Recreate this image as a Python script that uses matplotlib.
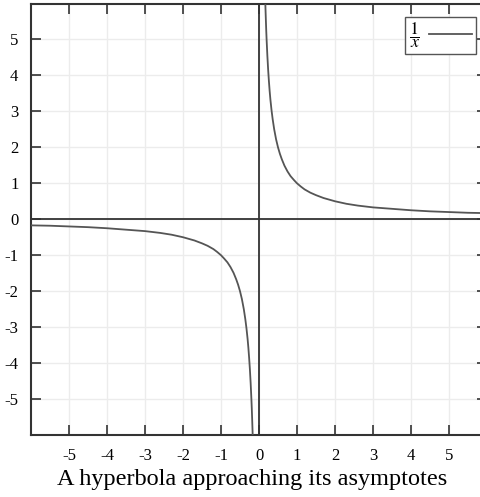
import matplotlib
matplotlib.use("Agg")
import matplotlib.pyplot as plt

plt.rcParams['font.family'] = 'Liberation Serif'
plt.rcParams['mathtext.fontset'] = 'stix'
plt.rcParams['axes.unicode_minus'] = False

# points of the curve y = 1/x
x_pos = [0.16, 0.17, 0.18, 0.19, 0.2, 0.22, 0.24, 0.26, 0.28, 0.3, 0.33, 0.36, 0.4,
         0.45, 0.5, 0.55, 0.6, 0.67, 0.75, 0.83, 0.92, 1.0, 1.1, 1.2, 1.35, 1.5,
         1.7, 2.0, 2.3, 2.6, 3.0, 3.5, 4.0, 4.5, 5.0, 5.5, 6.0]
y_pos = [6.25, 5.88, 5.56, 5.26, 5.0, 4.55, 4.17, 3.85, 3.57, 3.33, 3.03, 2.78, 2.5,
         2.22, 2.0, 1.82, 1.67, 1.49, 1.33, 1.2, 1.09, 1.0, 0.91, 0.83, 0.74, 0.67,
         0.59, 0.5, 0.43, 0.38, 0.33, 0.29, 0.25, 0.22, 0.2, 0.18, 0.17]
x_neg = [-v for v in x_pos]
y_neg = [-v for v in y_pos]

ticks = [-5, -4, -3, -2, -1, 0, 1, 2, 3, 4, 5]
caption = "A hyperbola approaching its asymptotes"

fig = plt.figure(figsize=(4.81, 4.97), dpi=100)
ax = fig.add_axes([31/481, 62/497, 456/481, 431.5/497])

ax.grid(True, color='#ececec', linewidth=1.0)
ax.set_axisbelow(True)
ax.axhline(0, color='#333333', linewidth=1.3, zorder=2)
ax.axvline(0, color='#333333', linewidth=1.3, zorder=2)

ax.plot(x_pos, y_pos, color='#555555', linewidth=1.3, label=r'$\dfrac{1}{x}$', zorder=3)
ax.plot(x_neg, y_neg, color='#555555', linewidth=1.3, zorder=3)

ax.set_xlim(-6, 6)
ax.set_ylim(-6, 6)
ax.set_xticks(ticks)
ax.set_yticks(ticks)
ax.tick_params(direction='in', length=7, width=1.2, color='#333333',
               top=True, right=True, labelsize=12, pad=9)
for s in ax.spines.values():
    s.set_linewidth(1.5)
    s.set_color('#333333')

leg = ax.legend(loc='upper right', markerfirst=False, fancybox=False,
                framealpha=1, edgecolor='#555555', fontsize=13,
                handlelength=2.4, borderpad=0.2, handletextpad=0.5,
                borderaxespad=0, bbox_to_anchor=(0.976, 0.969))
leg.get_frame().set_linewidth(1.0)

fig.text(0.525, 1 - 479/497, caption, ha='center', va='center', fontsize=17.5)

fig.savefig('out.png', dpi=100)
